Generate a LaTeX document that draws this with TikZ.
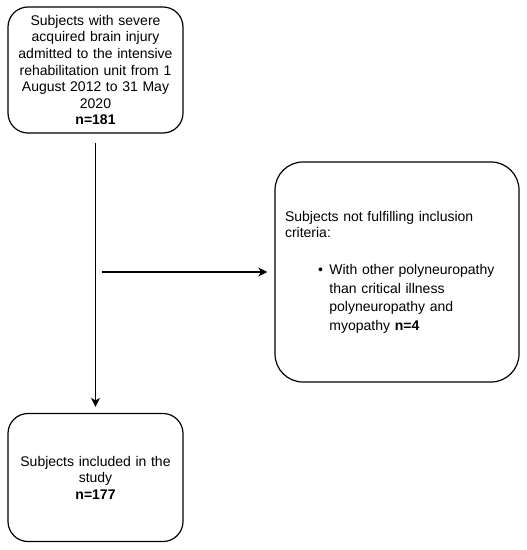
\documentclass[tikz,border=0pt]{standalone}
\usepackage{fontspec}
\setmainfont{Liberation Sans}
\usetikzlibrary{arrows.meta}
\begin{document}
\begin{tikzpicture}[x=1bp,y=-1bp,
  box/.style={draw=black, line width=1.2bp, rounded corners=20bp, align=center,
    font=\fontsize{14bp}{16.5bp}\selectfont, inner sep=0pt},
  conn/.style={draw=black, line width=1.2bp, -{Stealth[length=9bp,width=9bp,inset=2.5bp]}}]
\useasboundingbox (0,0) rectangle (527,550);
\node[box, minimum width=175bp, minimum height=126bp, text width=170bp] (src) at (95.5,70)
  {Subjects with severe\\acquired brain injury\\admitted to the intensive\\rehabilitation unit from 1\\August 2012 to 31 May\\2020\\\textbf{n=181}};
\node[box, minimum width=175bp, minimum height=128bp, text width=170bp] (incl) at (95.5,477.5)
  {Subjects included in the\\study\\\textbf{n=177}};
\node[box, rounded corners=28bp, minimum width=244bp, minimum height=220bp, text width=224bp,
  inner sep=10bp, align=left] (excl) at (397,272)
  {Subjects not fulfilling inclusion\\criteria:\\[20.5bp]\hspace*{33bp}\textbullet\hspace{6.5bp}\parbox[t]{170bp}{\fontsize{14bp}{18.5bp}\selectfont With other polyneuropathy\\than critical illness\\polyneuropathy and\\myopathy \textbf{n=4}}};
\coordinate (split) at (102,272);
\draw[conn, shorten >=6bp] ([yshift=-9bp]src.south) -- (incl.north);
\draw[conn, shorten >=7bp] (split) -- (excl.west);
\end{tikzpicture}
\end{document}
